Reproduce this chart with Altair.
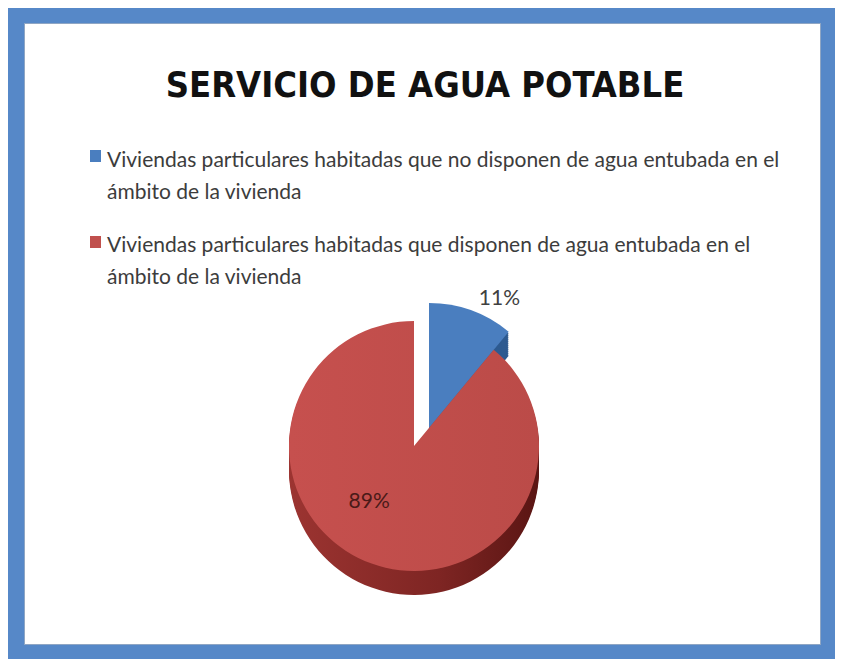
import altair as alt
import pandas as pd

# ---- data ----
titulo = "SERVICIO DE AGUA POTABLE"
categorias = ["no_dispone", "dispone"]
etiquetas = [
    "Viviendas particulares habitadas que no disponen de agua entubada en el\námbito de la vivienda",
    "Viviendas particulares habitadas que disponen de agua entubada en el\námbito de la vivienda",
]
porcentajes = [11, 89]
textos = ["11%", "89%"]
colores_cara = ["#4A7EBF", "#C0504D"]
colores_lado = ["#2D5A90", "#8A2A28"]

df = pd.DataFrame({
    "cat": categorias,
    "etiqueta": etiquetas,
    "valor": porcentajes,
    "texto": textos,
})
one = pd.DataFrame({"t": [titulo]})

FONT = "'DejaVu Sans Condensed', Lato, sans-serif"
FONT2 = "Lato, sans-serif"
W, H = 827, 651
CX, CY, R = 406, 438, 125
DEPTH = 24
EX, EY = 15, -18  # explosion offset of small slice

base = alt.Chart(df)
theta = alt.Theta("valor:Q", stack=True)
order = alt.Order("valor:Q", sort="ascending")

layers = []
# frame
layers.append(alt.Chart(one).mark_rect(color="#5688C8").encode(
    x=alt.value(0), x2=alt.value(W), y=alt.value(0), y2=alt.value(H)))
layers.append(alt.Chart(one).mark_rect(color="#8FA6C4").encode(
    x=alt.value(16), x2=alt.value(813), y=alt.value(15), y2=alt.value(637)))
layers.append(alt.Chart(one).mark_rect(color="#FFFFFF").encode(
    x=alt.value(17), x2=alt.value(812), y=alt.value(16), y2=alt.value(636)))

# title
layers.append(alt.Chart(one).mark_text(
    font=FONT, fontSize=36, fontWeight="bold", color="#111111",
    align="center", baseline="alphabetic").encode(
    text="t:N", x=alt.value(417), y=alt.value(89)))

# legend
for i, (ysq, ytx) in enumerate([(142, 159), (228, 244)]):
    sub = base.transform_filter(alt.datum.cat == categorias[i])
    layers.append(sub.mark_rect(color=colores_cara[i]).encode(
        x=alt.value(82), x2=alt.value(93), y=alt.value(ysq), y2=alt.value(ysq + 12)))
    layers.append(sub.mark_text(
        font=FONT2, fontSize=21, color="#3C3C3C", align="left",
        baseline="alphabetic", lineBreak="\n", lineHeight=32).encode(
        text="etiqueta:N", x=alt.value(99), y=alt.value(ytx)))

def slice_op(cat):
    return alt.condition(alt.datum.cat == cat, alt.value(1), alt.value(0))

# exploded blue slice: side then top
for k in range(DEPTH, 0, -2):
    layers.append(base.mark_arc(radius=R, color=colores_lado[0]).encode(
        theta=theta, order=order, opacity=slice_op(categorias[0]),
        x=alt.value(CX + EX), y=alt.value(CY + EY + k)))
layers.append(base.mark_arc(radius=R, color=colores_cara[0]).encode(
    theta=theta, order=order, opacity=slice_op(categorias[0]),
    x=alt.value(CX + EX), y=alt.value(CY + EY)))

# red slice: side then top
side_grad = alt.Gradient(
    gradient="linear", x1=0, x2=1, y1=0, y2=0,
    stops=[alt.GradientStop(offset=0, color="#9C3431"),
           alt.GradientStop(offset=0.6, color="#7E2523"),
           alt.GradientStop(offset=1, color="#5A1513")])
for k in range(DEPTH, 0, -2):
    layers.append(base.mark_arc(radius=R, fill=side_grad).encode(
        theta=theta, order=order, opacity=slice_op(categorias[1]),
        x=alt.value(CX), y=alt.value(CY + k)))
top_grad = alt.Gradient(
    gradient="linear", x1=0, x2=1, y1=0, y2=0,
    stops=[alt.GradientStop(offset=0, color="#C6504E"),
           alt.GradientStop(offset=1, color="#BB4B48")])
layers.append(base.mark_arc(radius=R, fill=top_grad).encode(
    theta=theta, order=order, opacity=slice_op(categorias[1]),
    x=alt.value(CX), y=alt.value(CY)))

# labels
layers.append(base.mark_text(radius=R + 18, dx=22, dy=6, font=FONT2, fontSize=21, color="#404040").encode(
    theta=theta, order=order, text="texto:N", opacity=slice_op(categorias[0]),
    x=alt.value(CX + EX), y=alt.value(CY + EY)))
layers.append(base.mark_text(radius=R * 0.68, dx=-16, dy=-24, font=FONT2, fontSize=21, color="#4A1A18").encode(
    theta=theta, order=order, text="texto:N", opacity=slice_op(categorias[1]),
    x=alt.value(CX), y=alt.value(CY)))

chart = alt.layer(*layers).properties(
    width=W, height=H, padding=0, autosize="none", background="white"
).configure_view(stroke=None)

chart.save("out.html", embed_options={"renderer": "svg", "actions": False})
